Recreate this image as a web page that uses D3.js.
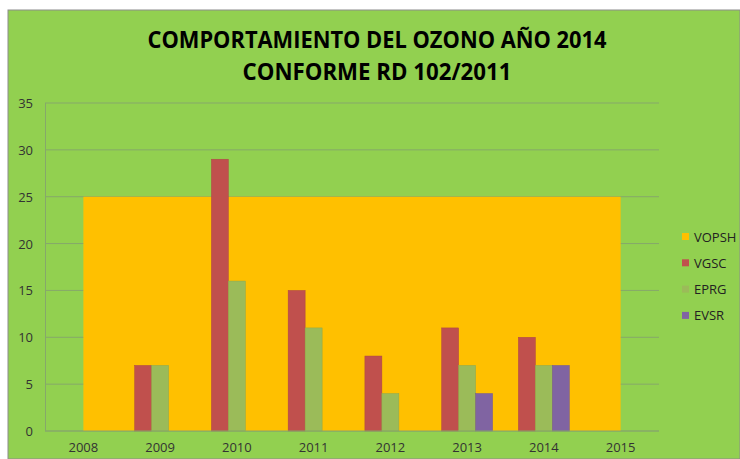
<!DOCTYPE html>
<html>
<head>
<meta charset="utf-8">
<script src="https://cdn.jsdelivr.net/npm/d3@7"></script>
<style>
  body { margin: 0; background: #fff; }
  text { font-family: "Liberation Sans Narrow", "Open Sans", sans-serif; }
</style>
</head>
<body>
<div id="chart"></div>
<script>
// datos
const years = ["2008", "2009", "2010", "2011", "2012", "2013", "2014", "2015"];
const vopsh = [25, 25, 25, 25, 25, 25, 25, 25];
const vgsc = [null, 7, 29, 15, 8, 11, 10, null];
const eprg = [null, 7, 16, 11, 4, 7, 7, null];
const evsr = [null, null, null, null, null, 4, 7, null];
const yTicks = [0, 5, 10, 15, 20, 25, 30, 35];
const seriesNames = ["VOPSH", "VGSC", "EPRG", "EVSR"];
const colors = ["#FFC000", "#C0504D", "#9BBB59", "#8064A2"];

const W = 740, H = 459;
const margin = { top: 103, left: 45, right: 81, bottom: 28 };
const width = W - margin.left - margin.right,
    height = H - margin.top - margin.bottom;

const svg = d3.select("#chart").append("svg")
    .attr("width", W)
    .attr("height", H);

// fondo del grafico
svg.append("rect")
    .attr("x", 8).attr("y", 10)
    .attr("width", W - 8).attr("height", H - 10)
    .attr("fill", "#92D050")
    .attr("stroke", "#8c8c8c")
    .attr("stroke-width", 1);

// titulo
const title = svg.append("g")
    .attr("font-weight", "bold")
    .attr("text-anchor", "middle")
    .attr("fill", "#000");
title.append("text")
    .attr("x", 377).attr("y", 48)
    .attr("font-size", 24)
    .attr("textLength", 459).attr("lengthAdjust", "spacingAndGlyphs")
    .text("COMPORTAMIENTO DEL OZONO AÑO 2014");
title.append("text")
    .attr("x", 377).attr("y", 80)
    .attr("font-size", 24)
    .attr("textLength", 269).attr("lengthAdjust", "spacingAndGlyphs")
    .text("CONFORME RD 102/2011");

const g = svg.append("g")
    .attr("transform", "translate(" + margin.left + "," + margin.top + ")");

const x = d3.scaleBand()
    .domain(years)
    .range([0, width]);

const y = d3.scaleLinear()
    .domain([0, 35])
    .range([height, 0]);

// lineas de cuadricula
g.append("g")
    .selectAll("line")
    .data(yTicks)
    .join("line")
    .attr("x1", 0).attr("x2", width)
    .attr("y1", d => y(d)).attr("y2", d => y(d))
    .attr("stroke", "#86a86a")
    .attr("stroke-width", 1);

g.append("line")
    .attr("x1", 0.5).attr("x2", 0.5)
    .attr("y1", 0).attr("y2", height)
    .attr("stroke", "#86a86a");

// area VOPSH
const area = d3.area()
    .x((d, i) => x(years[i]) + x.bandwidth() / 2)
    .y0(y(0))
    .y1(d => y(d));

g.append("path")
    .datum(vopsh)
    .attr("d", area)
    .attr("fill", colors[0]);

// barras
const barSeries = [vgsc, eprg, evsr];
const xSub = d3.scaleBand()
    .domain([0, 1, 2])
    .range([0, x.bandwidth() * 0.664]);
const offset = (x.bandwidth() - x.bandwidth() * 0.664) / 2;

barSeries.forEach((serie, s) => {
    g.append("g")
        .selectAll("rect")
        .data(serie.map((v, i) => ({ year: years[i], v: v })).filter(d => d.v != null))
        .join("rect")
        .attr("x", d => x(d.year) + offset + xSub(s))
        .attr("y", d => y(d.v))
        .attr("width", xSub.bandwidth())
        .attr("height", d => y(0) - y(d.v))
        .attr("fill", colors[s + 1])
        .attr("stroke", d3.color(colors[s + 1]).darker(0.3))
        .attr("stroke-width", 0.5);
});

// eje x linea base
g.append("line")
    .attr("x1", 0).attr("x2", width)
    .attr("y1", y(0)).attr("y2", y(0))
    .attr("stroke", "#86a86a");

// etiquetas eje y
g.append("g")
    .selectAll("text")
    .data(yTicks)
    .join("text")
    .attr("x", -12)
    .attr("y", d => y(d) + 5)
    .attr("text-anchor", "end")
    .attr("font-size", 13)
    .attr("fill", "#333")
    .text(d => d);

// etiquetas eje x
g.append("g")
    .selectAll("text")
    .data(years)
    .join("text")
    .attr("x", d => x(d) + x.bandwidth() / 2)
    .attr("y", height + 21)
    .attr("text-anchor", "middle")
    .attr("font-size", 13)
    .attr("fill", "#333")
    .text(d => d);

// leyenda
const legend = svg.append("g")
    .selectAll("g")
    .data(seriesNames)
    .join("g")
    .attr("transform", (d, i) => "translate(682," + (237 + i * 26.3) + ")");

legend.append("rect")
    .attr("x", 0).attr("y", -4)
    .attr("width", 7).attr("height", 7)
    .attr("fill", (d, i) => colors[i]);

legend.append("text")
    .attr("x", 12).attr("y", 4.5)
    .attr("font-size", 13)
    .attr("fill", "#222")
    .text(d => d);
</script>
</body>
</html>
